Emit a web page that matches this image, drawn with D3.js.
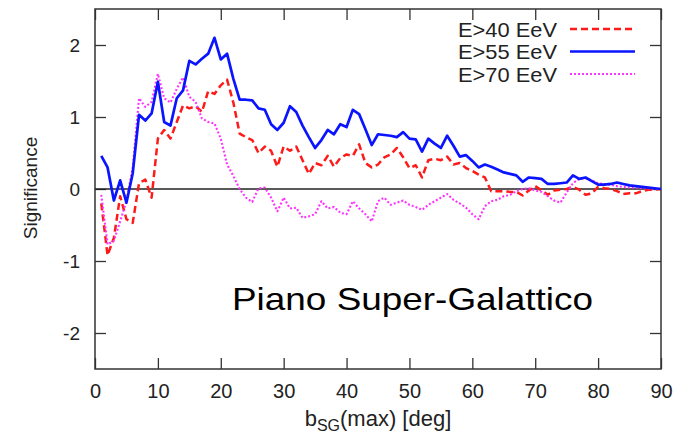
<!DOCTYPE html>
<html>
<head>
<meta charset="utf-8">
<script src="https://cdn.jsdelivr.net/npm/d3@7"></script>
<style>
  body { margin: 0; background: #fff; }
  svg { display: block; font-family: "Liberation Sans", Arial, sans-serif; }
</style>
</head>
<body>
<div id="chart"></div>
<script>
// b_SG(max) in degrees, 1..90
const degrees = d3.range(1, 91);

// E>40 EeV (red dashed)
const e40 = [
  -0.20, -0.92, -0.68, -0.10, -0.42, -0.47, 0.08, 0.13, -0.12, 0.70,
  0.82, 0.70, 0.93, 1.16, 1.12, 1.15, 1.07, 1.36, 1.32, 1.44,
  1.52, 1.20, 0.77, 0.72, 0.68, 0.50, 0.59, 0.53, 0.31, 0.59,
  0.53, 0.59, 0.40, 0.21, 0.36, 0.33, 0.46, 0.31, 0.43, 0.48,
  0.46, 0.62, 0.36, 0.30, 0.34, 0.44, 0.48, 0.57, 0.44, 0.29,
  0.33, 0.16, 0.40, 0.42, 0.40, 0.45, 0.34, 0.36, 0.29, 0.25,
  0.20, 0.16, -0.03, -0.03, -0.03, -0.04, -0.04, -0.09, -0.02, 0.04,
  -0.02, -0.08, -0.02, -0.01, 0.00, 0.03, -0.01, -0.08, -0.06, 0.03,
  0.01, 0.00, -0.03, -0.07, -0.06, -0.06, -0.03, -0.01, -0.01, 0.00
];

// E>55 EeV (blue solid)
const e55 = [
  0.46, 0.30, -0.16, 0.12, -0.19, 0.22, 1.03, 0.95, 1.05, 1.49,
  0.93, 0.88, 1.26, 1.37, 1.78, 1.73, 1.81, 1.88, 2.10, 1.80,
  1.88, 1.53, 1.24, 1.24, 1.23, 1.12, 1.10, 0.90, 0.82, 0.92,
  1.15, 1.07, 0.88, 0.72, 0.57, 0.68, 0.82, 0.76, 0.90, 0.86,
  1.10, 1.04, 0.83, 0.61, 0.76, 0.75, 0.74, 0.72, 0.79, 0.70,
  0.69, 0.52, 0.70, 0.63, 0.57, 0.74, 0.60, 0.45, 0.47, 0.39,
  0.30, 0.34, 0.31, 0.27, 0.23, 0.21, 0.19, 0.10, 0.16, 0.15,
  0.14, 0.07, 0.07, 0.08, 0.09, 0.19, 0.14, 0.16, 0.11, 0.06,
  0.06, 0.07, 0.09, 0.07, 0.05, 0.04, 0.03, 0.02, 0.01, 0.00
];

// E>70 EeV (magenta dotted)
const e70 = [
  -0.08, -0.77, -0.72, -0.45, -0.17, 0.30, 1.26, 1.14, 1.21, 1.60,
  1.26, 1.20, 1.39, 1.55, 1.28, 1.21, 0.98, 0.93, 0.91, 0.70,
  0.34, 0.18, 0.00, -0.12, -0.18, 0.01, 0.02, -0.12, -0.31, -0.12,
  -0.27, -0.26, -0.40, -0.38, -0.35, -0.17, -0.27, -0.25, -0.33, -0.35,
  -0.17, -0.27, -0.35, -0.45, -0.17, -0.12, -0.22, -0.19, -0.16, -0.22,
  -0.25, -0.29, -0.22, -0.17, -0.12, -0.07, -0.15, -0.20, -0.26, -0.35,
  -0.42, -0.24, -0.17, -0.15, -0.10, -0.08, -0.03, 0.00, 0.01, -0.02,
  -0.04, -0.10, -0.16, -0.19, -0.05, 0.08, 0.14, 0.15, 0.12, 0.08,
  0.07, 0.06, 0.04, 0.03, 0.02, 0.02, 0.01, 0.01, 0.00, 0.00
];

const seriesNames = ["E>40 EeV", "E>55 EeV", "E>70 EeV"];
const xTicks = d3.range(0, 91, 10);
const yTicks = [-2, -1, 0, 1, 2];

// set the dimensions and margins of the graph
const margin = {top: 9, right: 22, bottom: 71, left: 95},
    width = 683 - margin.left - margin.right,
    height = 440 - margin.top - margin.bottom;

const svg = d3.select("#chart")
  .append("svg")
    .attr("width", 683)
    .attr("height", 440)
  .append("g")
    .attr("transform", `translate(${margin.left},${margin.top})`);

const x = d3.scaleLinear().domain([0, 90]).range([0, width]);
const y = d3.scaleLinear().domain([-2.5, 2.5]).range([height, 0]);

// plain hyphen for negatives, like the original
const fmt = d => String(d);

// axes, ticks pointing inward on all four sides
const tickLen = -11;
const styleAxis = g => {
  g.select(".domain").remove();
  g.selectAll(".tick line").attr("stroke", "#333").attr("stroke-width", 1.3);
  g.selectAll(".tick text").attr("fill", "#222");
};

svg.append("g")
  .attr("transform", `translate(0,${height})`)
  .call(d3.axisBottom(x).tickValues(xTicks).tickFormat(fmt).tickSize(tickLen).tickPadding(15))
  .call(styleAxis)
  .selectAll("text").style("font-size", "20px");

svg.append("g")
  .call(d3.axisTop(x).tickValues(xTicks).tickSize(tickLen).tickFormat(""))
  .call(styleAxis);

svg.append("g")
  .call(d3.axisLeft(y).tickValues(yTicks).tickFormat(fmt).tickSize(tickLen).tickPadding(15))
  .call(styleAxis)
  .selectAll("text").style("font-size", "19px");

svg.append("g")
  .attr("transform", `translate(${width},0)`)
  .call(d3.axisRight(y).tickValues(yTicks).tickSize(tickLen).tickFormat(""))
  .call(styleAxis);

// zero line
svg.append("line")
  .attr("x1", 0).attr("x2", width)
  .attr("y1", y(0)).attr("y2", y(0))
  .attr("stroke", "#222").attr("stroke-width", 1.3);

// frame
svg.append("rect")
  .attr("width", width).attr("height", height)
  .attr("fill", "none").attr("stroke", "#333").attr("stroke-width", 1.5);

// the three curves
const styles = [
  {data: e40, color: "#ff1a1a", width: 2.5, dash: "7,4"},
  {data: e55, color: "#0a14ff", width: 2.7, dash: null},
  {data: e70, color: "#ff33ff", width: 2.1, dash: "2,2"}
];

const line = d3.line()
  .x((d, i) => x(degrees[i]))
  .y(d => y(d));

// draw red, then magenta, then blue on top
[0, 2, 1].forEach(k => {
  const s = styles[k];
  svg.append("path")
    .datum(s.data)
    .attr("d", line)
    .attr("fill", "none")
    .attr("stroke", s.color)
    .attr("stroke-width", s.width)
    .attr("stroke-dasharray", s.dash)
    .attr("stroke-linejoin", "round");
});

// legend
const legend = svg.append("g");
seriesNames.forEach((name, i) => {
  const s = styles[i];
  const ly = 20 + i * 22.5;
  legend.append("text")
    .attr("x", 462).attr("y", ly + 7.5)
    .attr("text-anchor", "end")
    .attr("fill", "#222")
    .style("font-size", "21px")
    .attr("textLength", 99)
    .attr("lengthAdjust", "spacingAndGlyphs")
    .text(name);
  legend.append("line")
    .attr("x1", 475).attr("x2", 540)
    .attr("y1", ly).attr("y2", ly)
    .attr("stroke", s.color)
    .attr("stroke-width", s.width)
    .attr("stroke-dasharray", s.dash);
});

// annotation
svg.append("text")
  .attr("x", 137).attr("y", 301)
  .attr("fill", "#000")
  .style("font-size", "32px")
  .attr("textLength", 361)
  .attr("lengthAdjust", "spacingAndGlyphs")
  .text("Piano Super-Galattico");

// y label
svg.append("text")
  .attr("transform", `translate(${-58},${height / 2 - 1}) rotate(-90)`)
  .attr("text-anchor", "middle")
  .attr("fill", "#222")
  .style("font-size", "19px")
  .text("Significance");

// x label with subscript
const xl = svg.append("text")
  .attr("x", 283).attr("y", height + 57)
  .attr("text-anchor", "middle")
  .attr("fill", "#222")
  .style("font-size", "22px");
xl.append("tspan").text("b");
xl.append("tspan").attr("dy", 5).style("font-size", "16px").text("SG");
xl.append("tspan").attr("dy", -5).text("(max) [deg]");
</script>
</body>
</html>
